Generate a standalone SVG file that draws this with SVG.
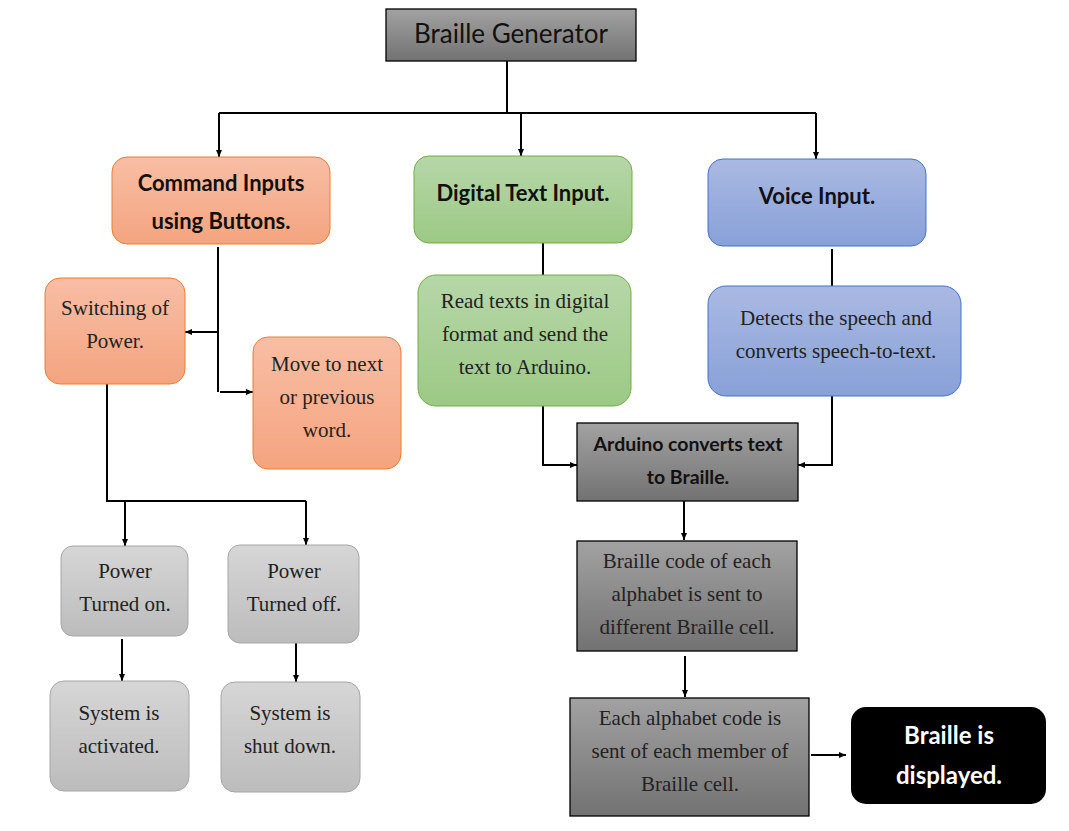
<svg xmlns="http://www.w3.org/2000/svg" width="1069" height="831" viewBox="0 0 1069 831">
<defs>
<linearGradient id="gDark" x1="0" y1="0" x2="0" y2="1"><stop offset="0" stop-color="#a2a2a2"/><stop offset="1" stop-color="#727272"/></linearGradient>
<linearGradient id="gLight" x1="0" y1="0" x2="0" y2="1"><stop offset="0" stop-color="#d6d6d6"/><stop offset="1" stop-color="#bcbcbc"/></linearGradient>
<linearGradient id="gOrange" x1="0" y1="0" x2="0" y2="1"><stop offset="0" stop-color="#f8bea5"/><stop offset="1" stop-color="#f4a47f"/></linearGradient>
<linearGradient id="gGreen" x1="0" y1="0" x2="0" y2="1"><stop offset="0" stop-color="#b6d7a8"/><stop offset="1" stop-color="#9cc985"/></linearGradient>
<linearGradient id="gBlue" x1="0" y1="0" x2="0" y2="1"><stop offset="0" stop-color="#aab9e2"/><stop offset="1" stop-color="#88a1d8"/></linearGradient>
<marker id="ah" markerWidth="8" markerHeight="8" refX="7" refY="4" orient="auto" markerUnits="userSpaceOnUse"><path d="M0,1 L7,4 L0,7 Z" fill="#000"/></marker>
</defs>
<style>
.sq{stroke:#000;stroke-width:1.3}
.dark{fill:url(#gDark)}
.light{fill:url(#gLight);stroke:#a6a6a6;stroke-width:1}
.orange{fill:url(#gOrange);stroke:#ed7d31;stroke-width:1}
.green{fill:url(#gGreen);stroke:#70ad47;stroke-width:1}
.blue{fill:url(#gBlue);stroke:#4472c4;stroke-width:1}
.hd{font-family:Lato,"Open Sans",sans-serif;font-size:26px;fill:#111;text-anchor:middle}
.hb{font-family:Lato,"Open Sans",sans-serif;font-size:22px;font-weight:bold;fill:#111;text-anchor:middle}
.hs{font-size:19.5px}
.sf{font-family:"Liberation Serif",serif;font-size:21px;fill:#222;text-anchor:middle}
.wh{font-family:Lato,"Open Sans",sans-serif;font-size:24px;font-weight:bold;fill:#fff;text-anchor:middle}
.ln{fill:none;stroke:#000;stroke-width:2}
.ar{fill:none;stroke:#000;stroke-width:2;marker-end:url(#ah)}
</style>
<rect width="1069" height="831" fill="#fff"/>
<g id="connectors">
<path class="ln" d="M507,61 V113 M219,113 H816"/>
<path class="ar" d="M219,113 V157"/>
<path class="ar" d="M521,113 V156"/>
<path class="ar" d="M816,113 V159"/>
<path class="ln" d="M218,247 V392"/>
<path class="ar" d="M218,332 H185"/>
<path class="ar" d="M220,392 H253"/>
<path class="ln" d="M107,384 V501 H306"/>
<path class="ar" d="M125,501 V546"/>
<path class="ar" d="M306,501 V545"/>
<path class="ar" d="M122,639 V681"/>
<path class="ar" d="M296,641 V682"/>
<path class="ln" d="M543,243 V275"/>
<path class="ar" d="M543,406 V465 H577"/>
<path class="ln" d="M832,249 V286"/>
<path class="ar" d="M832,396 V465 H798"/>
<path class="ar" d="M684,501 V540"/>
<path class="ar" d="M685,656 V697"/>
<path class="ar" d="M811,755 H846"/>
</g>
<g id="title"><rect class="dark sq" x="386" y="9" width="250" height="52"/><text class="hd" x="511" y="43">Braille Generator</text></g>
<g id="command"><rect class="orange" x="112" y="157" width="218" height="87" rx="15"/><text class="hb" x="221" y="191">Command Inputs</text><text class="hb" x="221" y="229">using Buttons.</text></g>
<g id="digital"><rect class="green" x="414" y="156" width="218" height="87" rx="15"/><text class="hb" x="523" y="201">Digital Text Input.</text></g>
<g id="voice"><rect class="blue" x="708" y="159" width="218" height="87" rx="15"/><text class="hb" x="817" y="204">Voice Input.</text></g>
<g id="switching"><rect class="orange" x="45" y="278" width="140" height="106" rx="15"/><text class="sf" x="115" y="315">Switching of</text><text class="sf" x="115" y="348">Power.</text></g>
<g id="move"><rect class="orange" x="253" y="337" width="148" height="132" rx="15"/><text class="sf" x="327" y="371">Move to next</text><text class="sf" x="327" y="404">or previous</text><text class="sf" x="327" y="437">word.</text></g>
<g id="read"><rect class="green" x="418" y="275" width="213" height="131" rx="18"/><text class="sf" x="525" y="308">Read texts in digital</text><text class="sf" x="525" y="341">format and send the</text><text class="sf" x="525" y="374">text to Arduino.</text></g>
<g id="detects"><rect class="blue" x="708" y="286" width="253" height="110" rx="18"/><text class="sf" x="836" y="325">Detects the speech and</text><text class="sf" x="836" y="358">converts speech-to-text.</text></g>
<g id="arduino"><rect class="dark sq" x="577" y="423" width="221" height="78"/><text class="hb hs" x="688" y="451">Arduino converts text</text><text class="hb hs" x="688" y="484">to Braille.</text></g>
<g id="poweron"><rect class="light" x="61" y="546" width="127" height="90" rx="12"/><text class="sf" x="125" y="578">Power</text><text class="sf" x="125" y="611">Turned on.</text></g>
<g id="poweroff"><rect class="light" x="228" y="545" width="131" height="98" rx="12"/><text class="sf" x="294" y="578">Power</text><text class="sf" x="294" y="611">Turned off.</text></g>
<g id="activated"><rect class="light" x="50" y="681" width="139" height="110" rx="14"/><text class="sf" x="119" y="720">System is</text><text class="sf" x="119" y="753">activated.</text></g>
<g id="shutdown"><rect class="light" x="221" y="682" width="139" height="110" rx="14"/><text class="sf" x="290" y="720">System is</text><text class="sf" x="290" y="753">shut down.</text></g>
<g id="braillecode"><rect class="dark sq" x="577" y="541" width="220" height="110"/><text class="sf" x="687" y="568">Braille code of each</text><text class="sf" x="687" y="601">alphabet is sent to</text><text class="sf" x="687" y="634">different Braille cell.</text></g>
<g id="eachalphabet"><rect class="dark sq" x="570" y="698" width="239" height="118"/><text class="sf" x="690" y="725">Each alphabet code is</text><text class="sf" x="690" y="758">sent of each member of</text><text class="sf" x="690" y="791">Braille cell.</text></g>
<g id="displayed"><rect x="851" y="707" width="195" height="97" rx="15" fill="#000"/><text class="wh" x="949" y="744">Braille is</text><text class="wh" x="949" y="784">displayed.</text></g>
</svg>
